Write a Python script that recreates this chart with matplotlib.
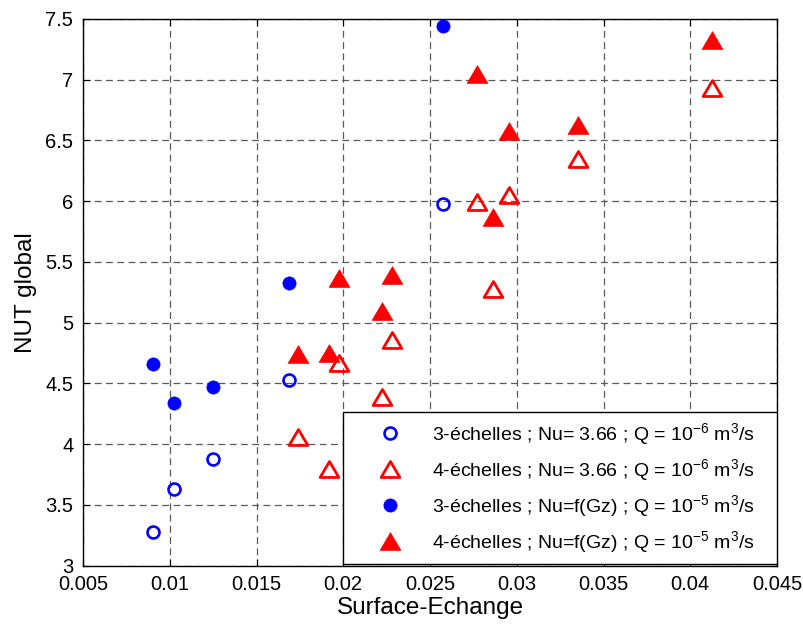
import matplotlib
matplotlib.use("Agg")
import matplotlib.pyplot as plt
from matplotlib.patches import Rectangle
from matplotlib.path import Path

plt.rcParams['font.family'] = ['Liberation Sans', 'DejaVu Sans']
plt.rcParams['mathtext.default'] = 'regular'

# Data
x_small = [0.00903, 0.01023, 0.01248, 0.01689, 0.02577]
nu3_const = [3.28, 3.63, 3.88, 4.53, 5.98]
nu3_gz = [4.66, 4.34, 4.47, 5.33, 7.44]

x_large = [0.01737, 0.01918, 0.01974, 0.02225, 0.02283, 0.02772, 0.02864, 0.02955, 0.03354, 0.04123]
nu4_const = [4.06, 3.80, 4.67, 4.39, 4.86, 5.99, 5.28, 6.05, 6.35, 6.93]
nu4_gz = [4.74, 4.75, 5.37, 5.10, 5.39, 7.05, 5.87, 6.58, 6.63, 7.33]

labels = [
    r'3-échelles ; Nu= 3.66 ; Q = 10$^{-6}$ m$^{3}$/s',
    r'4-échelles ; Nu= 3.66 ; Q = 10$^{-6}$ m$^{3}$/s',
    r'3-échelles ; Nu=f(Gz) ; Q = 10$^{-5}$ m$^{3}$/s',
    r'4-échelles ; Nu=f(Gz) ; Q = 10$^{-5}$ m$^{3}$/s',
]
xticks = [0.005, 0.01, 0.015, 0.02, 0.025, 0.03, 0.035, 0.04, 0.045]
xticklabels = ['0.005', '0.01', '0.015', '0.02', '0.025', '0.03', '0.035', '0.04', '0.045']
yticks = [3, 3.5, 4, 4.5, 5, 5.5, 6, 6.5, 7, 7.5]
yticklabels = ['3', '3.5', '4', '4.5', '5', '5.5', '6', '6.5', '7', '7.5']

# wide triangle marker (MATLAB-like)
tri = Path([(0, 0.85), (-1.0, -0.85), (1.0, -0.85), (0, 0.85)],
           [Path.MOVETO, Path.LINETO, Path.LINETO, Path.CLOSEPOLY])

fig = plt.figure(figsize=(8.04, 6.25), dpi=100)
ax = fig.add_axes([83/804, 1 - 565.7/625, 694/804, 546.7/625])

h1, = ax.plot(x_small, nu3_const, linestyle='none', marker='o', markersize=8.6,
              markerfacecolor='none', markeredgecolor='blue', markeredgewidth=1.9, zorder=3)
h2, = ax.plot(x_large, nu4_const, linestyle='none', marker=tri, markersize=13.5,
              markerfacecolor='none', markeredgecolor='red', markeredgewidth=2.0, zorder=3)
h3, = ax.plot(x_small, nu3_gz, linestyle='none', marker='o', markersize=9.5,
              markerfacecolor='blue', markeredgecolor='blue', markeredgewidth=0.5, zorder=3)
h4, = ax.plot(x_large, nu4_gz, linestyle='none', marker=tri, markersize=15,
              markerfacecolor='red', markeredgecolor='red', markeredgewidth=0.5, zorder=3)

ax.set_xlim(0.005, 0.045)
ax.set_ylim(3, 7.5)
ax.set_xticks(xticks)
ax.set_xticklabels(xticklabels)
ax.set_yticks(yticks)
ax.set_yticklabels(yticklabels)
ax.tick_params(direction='in', length=5, width=0.8, top=True, right=True,
               labelsize=14.5, colors='black')
ax.tick_params(axis='x', pad=7)
ax.tick_params(axis='y', pad=7)
ax.grid(True, color='#5a5a5a', linestyle=(0, (5.5, 3.5)), linewidth=0.9)
ax.set_axisbelow(True)
for s in ax.spines.values():
    s.set_linewidth(1.0)
    s.set_color('black')

ax.set_xlabel('Surface-Echange', fontsize=17.5, labelpad=2)
ax.set_ylabel('NUT global', fontsize=17.5, labelpad=6)

# legend frame
rect = Rectangle((0.375, 0.0026), 0.625, 0.278, transform=ax.transAxes,
                 facecolor='white', edgecolor='black', linewidth=1.0, zorder=5)
ax.add_patch(rect)
leg = ax.legend([h1, h2, h3, h4], labels, loc='center left',
                bbox_to_anchor=(0.4148, 0.1421), frameon=False, fontsize=14,
                borderpad=0, handlelength=2.0, handletextpad=1.13,
                labelspacing=0.52, borderaxespad=0)
leg.set_zorder(6)

fig.savefig('out.png', dpi=100)
